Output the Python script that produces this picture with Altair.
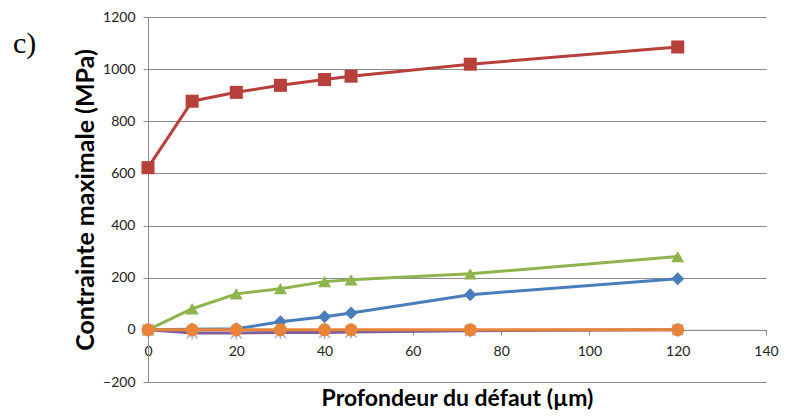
import altair as alt
import pandas as pd

depth = [0, 10, 20, 30, 40, 46, 73, 120]
series_names = ["S1", "S2", "S3", "S4", "S5"]
s1_blue = [0, 2, 4, 31, 50, 65, 135, 196]
s2_red = [622, 877, 911, 938, 960, 973, 1019, 1085]
s3_green = [0, 81, 138, 158, 185, 192, 215, 281]
s4_purple = [0, -12, -12, -10, -10, -8, -3, 0]
s5_orange = [0, 0, 0, 0, 0, 0, 0, 0]
colors = ["#4A7EBB", "#B8403B", "#8FB44E", "#7D5FA0", "#E8843A"]
shapes = ["diamond", "square", "triangle-up", "M-1,-1L1,1M1,-1L-1,1M0,-1.2L0,1.2", "circle"]

rows = []
for name, vals in zip(series_names, [s1_blue, s2_red, s3_green, s4_purple, s5_orange]):
    for d, v in zip(depth, vals):
        rows.append({"serie": name, "depth": d, "stress": v, "ord": series_names.index(name)})
df = pd.DataFrame(rows)

W, H = 618, 365
xs = alt.X("depth:Q", scale=alt.Scale(domain=[0, 140], nice=False),
           axis=alt.Axis(values=list(range(0, 141, 20)), grid=False, offset=-H * 200 / 1400,
                         format="d", labelFlush=False,
                         title="Profondeur du défaut (µm)", titlePadding=29,
                         titleFontSize=23, titleFontWeight="bold", titleColor="#000",
                         titleFont="Lato", labelFont="Lato", labelFontSize=14, labelColor="#222",
                         domainColor="#8c8c8c", tickColor="#8c8c8c", tickSize=5, labelPadding=10))
ys = alt.Y("stress:Q", scale=alt.Scale(domain=[-200, 1200], nice=False),
           axis=alt.Axis(values=list(range(-200, 1201, 200)), grid=True, gridColor="#8c8c8c",
                         format="d", labelFlush=False,
                         title="Contrainte maximale (MPa)", titlePadding=4,
                         titleFontSize=25, titleFontWeight="bold", titleColor="#000",
                         titleFont="Lato", labelFont="Lato", labelFontSize=14, labelColor="#222",
                         domainColor="#8c8c8c", tickColor="#8c8c8c", tickSize=5, labelPadding=8))
col = alt.Color("serie:N", scale=alt.Scale(domain=series_names, range=colors), legend=None)

base = alt.Chart(df)
lines = base.mark_line(strokeWidth=3).encode(x=xs, y=ys, color=col, order="ord:Q")
pts_main = base.mark_point(filled=True, opacity=1, size=170).encode(
    x=xs, y=ys, color=col,
    shape=alt.Shape("serie:N", scale=alt.Scale(domain=series_names, range=shapes), legend=None))
pts_x = base.transform_filter(alt.datum.serie == "S4").mark_point(
    shape="M-1,-1L1,1M1,-1L-1,1M0,-1.2L0,1.2", filled=False, size=120, strokeWidth=1.5,
    color="#9DB2D6", opacity=1).encode(x=xs, y=ys)

layers = []
for s in series_names:
    layers.append(lines.transform_filter(alt.datum.serie == s))
    if s == "S4":
        layers.append(pts_x)
    else:
        layers.append(pts_main.transform_filter(alt.datum.serie == s))

chart = alt.layer(*layers).properties(
    width=W, height=H,
    title=alt.Title("c)", anchor="start", frame="group", font="Liberation Serif",
                    fontSize=30, fontWeight="normal", color="#000", baseline="middle",
                    dx=-135, dy=64, offset=0),
    autosize=alt.AutoSizeParams(type="none"),
    padding={"left": 140, "top": 9, "right": 15, "bottom": 32},
).configure_view(stroke=None).configure_axis(domainWidth=1, gridWidth=1, tickWidth=1)

chart.save("out.html", embed_options={"renderer": "svg", "actions": False})
